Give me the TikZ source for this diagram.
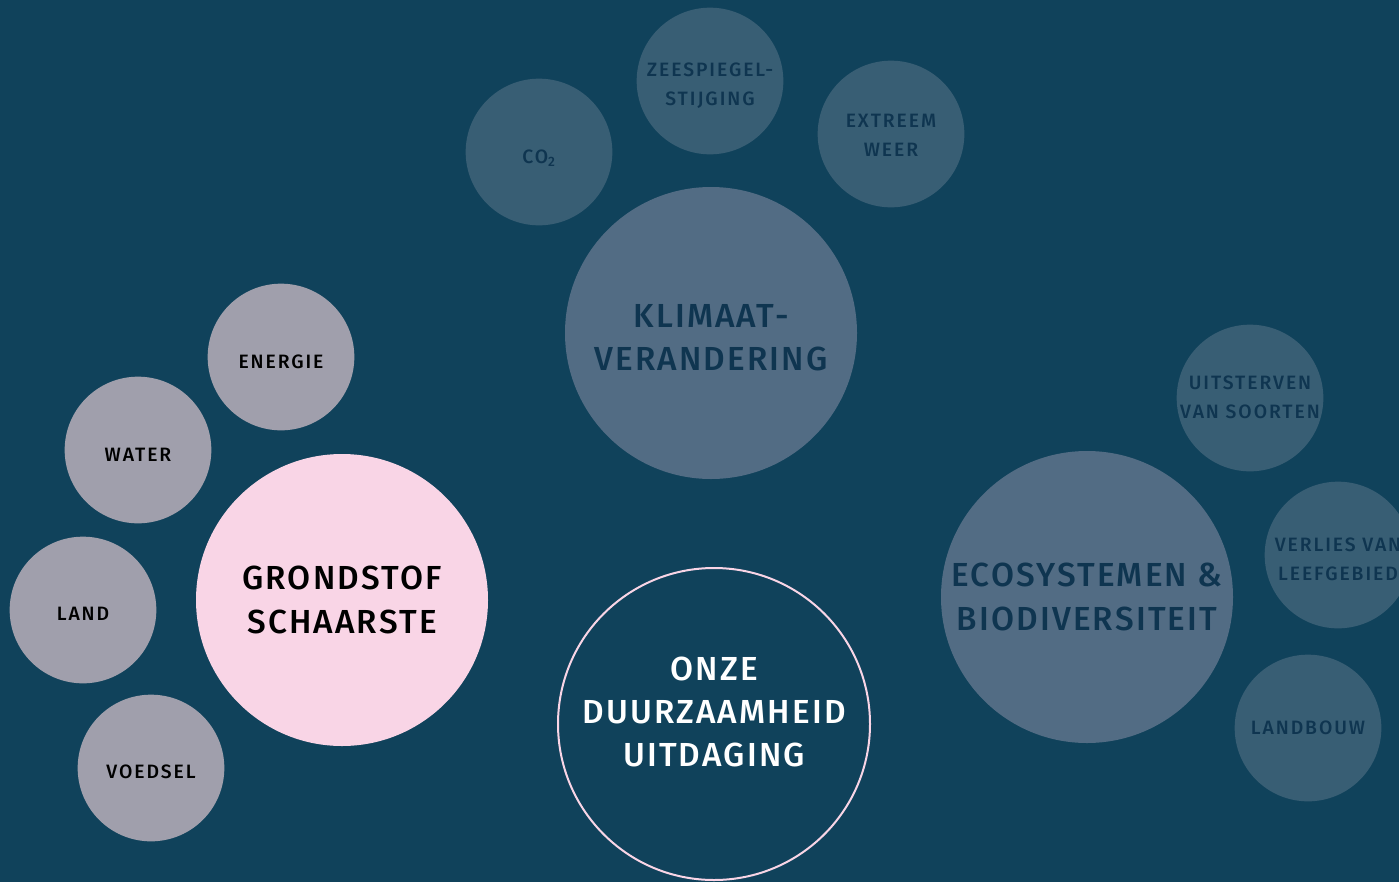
\documentclass[tikz,border=0pt]{standalone}
\usepackage{fontspec}
\setmainfont{Fira Sans}[UprightFont=* Medium, LetterSpace=4]
\newfontfamily\smallfnt{Fira Sans}[UprightFont=* Medium, LetterSpace=10]
\newfontfamily\bigfnt{Fira Sans}[UprightFont=* Medium, LetterSpace=6.5]
\definecolor{bg}{HTML}{10425B}
\definecolor{smallclim}{HTML}{385E74}
\definecolor{bigclim}{HTML}{526C84}
\definecolor{darktxt}{HTML}{0F3550}
\definecolor{greyc}{HTML}{A09FAC}
\definecolor{pinkc}{HTML}{F9D5E6}
\tikzset{
  bubble/.style={circle, inner sep=0pt},
  smallb/.style={bubble, minimum size=110pt},
  bigb/.style={bubble, minimum size=219pt},
  smalltxt/.style={align=center, inner sep=0pt, font=\smallfnt\fontsize{14.5pt}{21.75pt}\selectfont},
  bigtxt/.style={align=center, inner sep=0pt, font=\bigfnt\fontsize{25pt}{32.5pt}\selectfont},
  climsmall/.style={smallb, fill=smallclim},
  climbig/.style={bigb, fill=bigclim},
  res/.style={smallb, fill=greyc},
}
\begin{document}
\begin{tikzpicture}[x=0.75pt,y=-0.75pt]
\fill[bg] (0,0) rectangle (1399,882);
\useasboundingbox (0,0) rectangle (1399,882);
% climate
\node[climsmall] (co2) at (539,152) {};
\node[smalltxt, text=darktxt] at ([yshift=-4.5pt]co2.center) {CO\textsubscript{2}};
\node[climsmall] (zee) at (710,81) {};
\node[smalltxt, text=darktxt] at ([yshift=-3.75pt]zee.center) {ZEESPIEGEL-\\STIJGING};
\node[climsmall] (weer) at (891,134) {};
\node[smalltxt, text=darktxt] at ([yshift=-0.75pt]weer.center) {EXTREEM\\WEER};
\node[climbig] (klimaat) at (711,333) {};
\node[bigtxt, text=darktxt] at ([yshift=-3.75pt]klimaat.center) {KLIMAAT-\\VERANDERING};
% resources
\node[res] (energie) at (281,357) {};
\node[smalltxt, text=black] at ([yshift=-3.75pt]energie.center) {ENERGIE};
\node[res] (water) at (138,450) {};
\node[smalltxt, text=black] at ([yshift=-3.75pt]water.center) {WATER};
\node[res] (land) at (83,610) {};
\node[smalltxt, text=black] at ([yshift=-3pt]land.center) {LAND};
\node[res] (voedsel) at (151,768) {};
\node[smalltxt, text=black] at ([yshift=-3pt]voedsel.center) {VOEDSEL};
\node[bigb, fill=pinkc] (grondstof) at (342,600) {};
\node[bigtxt, text=black] at (grondstof.center) {GRONDSTOF\\SCHAARSTE};
% ecosystems
\node[climsmall] (uitsterven) at (1250,398) {};
\node[smalltxt, text=darktxt] at ([yshift=0.75pt]uitsterven.center) {UITSTERVEN\\VAN SOORTEN};
\node[climsmall] (verlies) at (1338,555) {};
\node[smalltxt, text=darktxt] at ([yshift=-3pt]verlies.center) {VERLIES VAN\\LEEFGEBIED};
\node[climsmall] (landbouw) at (1308,728) {};
\node[smalltxt, text=darktxt] at (landbouw.center) {LANDBOUW};
\node[climbig] (eco) at (1087,597) {};
\node[bigtxt, text=darktxt] at (eco.center) {ECOSYSTEMEN \&\\BIODIVERSITEIT};
% center
\node[bigb, minimum size=234pt, draw=pinkc, line width=1.5pt] (onze) at (714,724) {};
\node[bigtxt, text=white] at ([yshift=9pt]onze.center) {ONZE\\DUURZAAMHEID\\UITDAGING};
\end{tikzpicture}
\end{document}
